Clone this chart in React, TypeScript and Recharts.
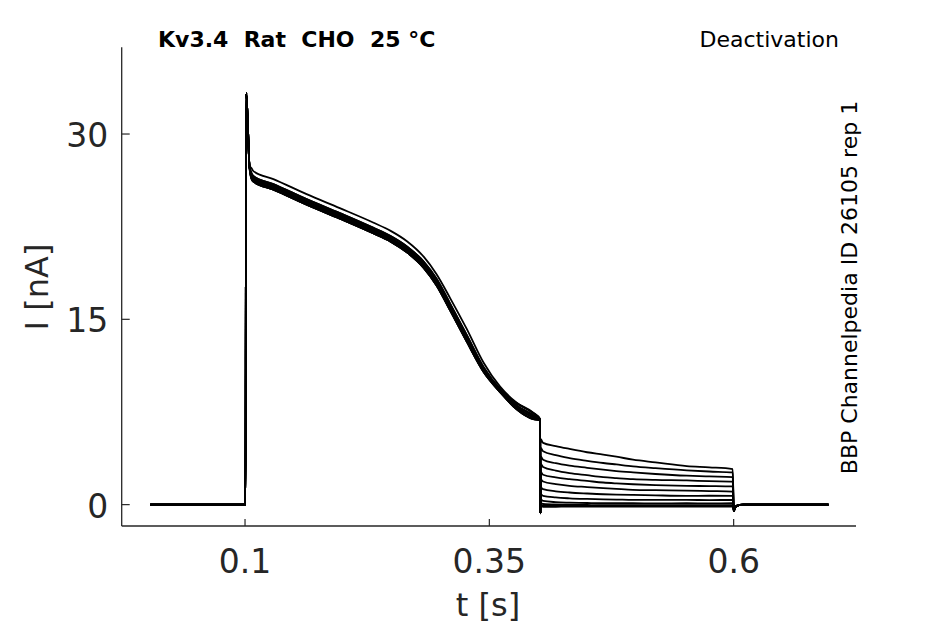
import React from "react";
import { LineChart, Line, XAxis, YAxis } from "recharts";

// ---- data (t in s, I in nA) ----
const baseTimes = [0.003, 0.1005];
const baseValues = [0, 0];

const spikeTimes = [0.1012, 0.1025, 0.1035, 0.1045];
const spikeValues = [33.3, 31.5, 29.3, 27.4];

const plateauTimes = [0.1065, 0.1085, 0.129, 0.163, 0.197, 0.231, 0.249, 0.266, 0.283, 0.296, 0.31, 0.327, 0.344, 0.361, 0.378, 0.395, 0.4018];
const plateauUpper = [27.25, 27.0, 26.35, 25.13, 24.0, 22.84, 22.16, 21.3, 20.05, 18.65, 16.7, 14.2, 11.5, 9.55, 8.25, 7.45, 6.95];
const plateauBandA = [26.85, 26.6, 25.95, 24.73, 23.6, 22.42, 21.74, 20.88, 19.66, 18.28, 16.25, 13.72, 11.15, 9.35, 8.2, 7.4, 6.92];
const plateauBandB = [26.7, 26.45, 25.8, 24.58, 23.45, 22.27, 21.59, 20.72, 19.49, 18.1, 16.07, 13.54, 11.02, 9.27, 8.03, 7.22, 6.88];
const plateauBandC = [26.55, 26.3, 25.65, 24.43, 23.3, 22.12, 21.44, 20.56, 19.32, 17.92, 15.89, 13.36, 10.89, 9.19, 7.87, 7.06, 6.85];
const plateauBandD = [26.4, 26.15, 25.5, 24.28, 23.15, 21.97, 21.29, 20.4, 19.15, 17.74, 15.71, 13.18, 10.76, 9.11, 7.72, 6.92, 6.82];

const dipTimes = [0.4022];
const dipValues = [-0.7];

const tailTimes = [0.4026, 0.405, 0.418, 0.432, 0.45, 0.4665, 0.48, 0.497, 0.52, 0.552, 0.575, 0.599];
const tail01 = [5.3, 5.0, 4.74, 4.51, 4.24, 4.05, 3.88, 3.64, 3.42, 3.12, 3.02, 2.88];
const tail02 = [4.6, 4.32, 4.0, 3.77, 3.55, 3.37, 3.25, 3.1, 2.95, 2.77, 2.68, 2.61];
const tail03 = [3.9, 3.64, 3.35, 3.15, 2.98, 2.83, 2.72, 2.61, 2.48, 2.34, 2.28, 2.23];
const tail04 = [3.3, 3.04, 2.75, 2.55, 2.38, 2.23, 2.15, 2.06, 2.0, 1.96, 1.9, 1.87];
const tail05 = [2.65, 2.42, 2.2, 2.06, 1.92, 1.79, 1.72, 1.65, 1.58, 1.52, 1.5, 1.47];
const tail06 = [2.05, 1.87, 1.66, 1.52, 1.42, 1.33, 1.27, 1.2, 1.17, 1.14, 1.1, 1.06];
const tail07 = [1.4, 1.25, 1.08, 0.98, 0.9, 0.84, 0.81, 0.79, 0.75, 0.71, 0.72, 0.71];
const tail08 = [0.85, 0.71, 0.58, 0.51, 0.46, 0.43, 0.41, 0.38, 0.38, 0.38, 0.37, 0.38];
const tail09 = [0.4, 0.3, 0.2, 0.16, 0.13, 0.11, 0.11, 0.11, 0.1, 0.11, 0.1, 0.11];
const tail10 = [0.12, 0.05, 0.01, 0.0, -0.03, -0.05, -0.05, -0.05, -0.05, -0.05, -0.05, -0.05];
const tail11 = [-0.02, -0.08, -0.1, -0.1, -0.11, -0.1, -0.12, -0.12, -0.1, -0.1, -0.11, -0.1];
const tail12 = [-0.12, -0.18, -0.17, -0.15, -0.16, -0.15, -0.15, -0.15, -0.16, -0.15, -0.15, -0.15];

const endTimes = [0.6002, 0.6012, 0.603, 0.61, 0.697];
const endValues = [-0.5, -0.3, -0.1, 0, 0];

const xTicks = [0.1, 0.35, 0.6];
const yTicks = [0, 15, 30];

// sweep -> (plateau curve, tail curve)
const sweeps = [
  [plateauUpper, tail01],
  [plateauBandA, tail02],
  [plateauBandA, tail03],
  [plateauBandB, tail04],
  [plateauBandB, tail05],
  [plateauBandB, tail06],
  [plateauBandC, tail07],
  [plateauBandC, tail08],
  [plateauBandC, tail09],
  [plateauBandD, tail10],
  [plateauBandD, tail11],
  [plateauBandD, tail12],
];

const allTimes = [...baseTimes, ...spikeTimes, ...plateauTimes, ...dipTimes, ...tailTimes, ...endTimes];
const sweepValues = sweeps.map(([plateau, tail]) => [
  ...baseValues,
  ...spikeValues,
  ...plateau,
  ...dipValues,
  ...tail,
  ...endValues,
]);
const data = allTimes.map((t, k) => {
  const row: Record<string, number> = { t };
  sweepValues.forEach((vals, i) => {
    row[`s${i}`] = vals[k];
  });
  return row;
});

const FONT = "'DejaVu Sans', sans-serif";
const AX = "#262626";

const XTick = (props: any) => {
  const { x, y, payload } = props;
  return (
    <g>
      <line x1={x} y1={y} x2={x} y2={y - 7} stroke={AX} strokeWidth={1.2} />
      <text x={x} y={y + 46.7} textAnchor="middle" fontSize={33} fontFamily={FONT} fill={AX}>
        {payload.value}
      </text>
    </g>
  );
};

const YTick = (props: any) => {
  const { x, y, payload } = props;
  return (
    <g>
      <line x1={x} y1={y} x2={x + 8} y2={y} stroke={AX} strokeWidth={1.2} />
      <text x={x - 13.4} y={y + 13} textAnchor="end" fontSize={33} fontFamily={FONT} fill={AX}>
        {payload.value}
      </text>
    </g>
  );
};

export default function App() {
  return (
    <div style={{ position: "fixed", left: 0, top: 0, width: 945, height: 624, background: "#fff" }}>
      <LineChart
        width={945}
        height={624}
        data={data}
        margin={{ top: 47.3, right: 89, bottom: 38, left: 41.7 }}
      >
        <XAxis
          dataKey="t"
          type="number"
          domain={[-0.0262, 0.7252]}
          ticks={xTicks}
          height={60}
          tickSize={0}
          tickMargin={0}
          tickLine={false}
          tick={<XTick />}
          axisLine={{ stroke: AX, strokeWidth: 1.3 }}
          allowDataOverflow
        />
        <YAxis
          type="number"
          domain={[-1.73, 37.02]}
          ticks={yTicks}
          width={80}
          tickSize={0}
          tickMargin={0}
          tickLine={false}
          tick={<YTick />}
          axisLine={{ stroke: AX, strokeWidth: 1.3 }}
          allowDataOverflow
        />
        {sweeps.map((_, i) => (
          <Line
            key={i}
            dataKey={`s${i}`}
            type="monotoneX"
            stroke="#000"
            strokeWidth={1.8}
            dot={false}
            activeDot={false}
            isAnimationActive={false}
          />
        ))}
      </LineChart>
      <svg
        width={945}
        height={624}
        style={{ position: "absolute", left: 0, top: 0, pointerEvents: "none" }}
      >
        <text x={158} y={47} fontSize={22} fontWeight="bold" fontFamily={FONT} fill="#000" style={{ whiteSpace: "pre" }}>
          {"Kv3.4  Rat  CHO  25 °C"}
        </text>
        <text x={839} y={47} fontSize={22} textAnchor="end" fontFamily={FONT} fill="#000">
          Deactivation
        </text>
        <text
          x={857}
          y={287.5}
          fontSize={22}
          textAnchor="middle"
          fontFamily={FONT}
          fill="#000"
          transform="rotate(-90, 857, 287.5)"
        >
          BBP Channelpedia ID 26105 rep 1
        </text>
        <text x={488} y={616} fontSize={32} textAnchor="middle" fontFamily={FONT} fill={AX}>
          t [s]
        </text>
        <text
          x={48}
          y={287}
          fontSize={32}
          textAnchor="middle"
          fontFamily={FONT}
          fill={AX}
          transform="rotate(-90, 48, 287)"
        >
          I [nA]
        </text>
      </svg>
    </div>
  );
}
